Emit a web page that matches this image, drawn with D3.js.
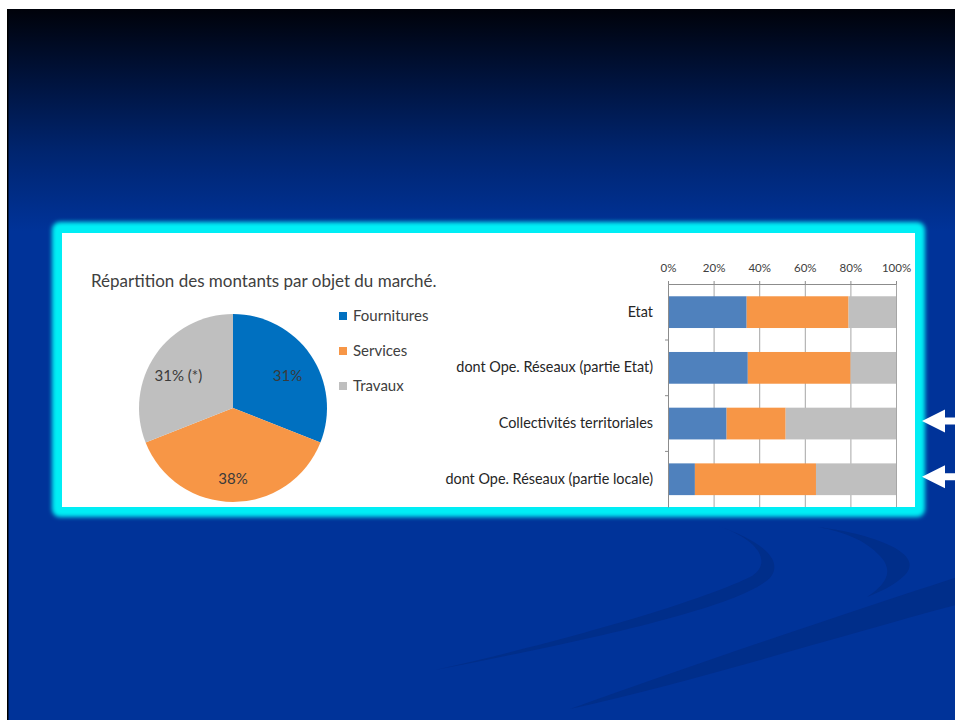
<!DOCTYPE html>
<html>
<head>
<meta charset="utf-8">
<script src="https://cdn.jsdelivr.net/npm/d3@7"></script>
<style>
  body { margin: 0; background: #fff; }
  svg { display: block; }
  text { font-family: Lato, "Open Sans", sans-serif; }
</style>
</head>
<body>
<svg></svg>
<script>
const WIDTH = 955, HEIGHT = 720

// pie data
const pieCategories = ['Fournitures', 'Services', 'Travaux']
const pieValues = [31, 38, 31]
const pieLabels = ['31%', '38%', '31% (*)']

// stacked bar data (% of each row)
const barCategories = [
  'Etat',
  'dont Ope. Réseaux (partie Etat)',
  'Collectivités territoriales',
  'dont Ope. Réseaux (partie locale)'
]
const fournitures = [34.5, 35.0, 25.7, 11.8]
const services = [44.7, 45.1, 25.9, 53.1]
const travaux = [20.8, 19.9, 48.4, 35.1]
const xTicks = [0, 20, 40, 60, 80, 100]
const flaggedRows = ['Collectivités territoriales', 'dont Ope. Réseaux (partie locale)']

const pieColors = ['#0070c0', '#f79646', '#bfbfbf']
const barColors = ['#4f81bd', '#f79646', '#bfbfbf']

const svg = d3.select('svg')
  .attr('width', WIDTH)
  .attr('height', HEIGHT)

const defs = svg.append('defs')
const grad = defs.append('linearGradient')
  .attr('id', 'sky')
  .attr('x1', 0).attr('y1', 0).attr('x2', 0).attr('y2', 1)
grad.selectAll('stop')
  .data([[0, '#00020a'], [0.3, '#00123a'], [0.65, '#002570'], [1, '#003399']])
  .enter().append('stop')
  .attr('offset', d => d[0])
  .attr('stop-color', d => d[1])
defs.append('filter').attr('id', 'glow')
  .attr('x', -0.05).attr('y', -0.1).attr('width', 1.1).attr('height', 1.2)
  .append('feGaussianBlur').attr('stdDeviation', 2.2)
defs.append('clipPath').attr('id', 'slide')
  .append('rect').attr('x', 7).attr('y', 9).attr('width', WIDTH - 7).attr('height', HEIGHT - 9)

// slide background
const bg = svg.append('g').attr('clip-path', 'url(#slide)')
bg.append('rect').attr('x', 7).attr('y', 9).attr('width', WIDTH).attr('height', HEIGHT).attr('fill', '#003399')
bg.append('rect').attr('x', 7).attr('y', 9).attr('width', WIDTH).attr('height', 222).attr('fill', 'url(#sky)')
bg.append('rect').attr('x', 7).attr('y', 9).attr('width', 1.5).attr('height', HEIGHT).attr('fill', '#000')

// decorative swooshes
const swooshes = [
  'M718,526 C760,540 785,560 770,578 C740,605 620,634 435,670 C560,642 700,602 752,576 C772,563 760,540 718,526 Z',
  'M818,527 C880,535 925,555 905,575 C895,585 880,592 867,597 C885,585 895,572 880,556 C865,540 845,532 818,527 Z',
  'M570,709 C700,662 850,612 960,576 L960,604 C850,633 700,680 570,709 Z'
]
bg.selectAll('path.swoosh')
  .data(swooshes)
  .enter().append('path')
  .attr('class', 'swoosh')
  .attr('d', d => d)
  .attr('fill', '#002e8a')

// glowing panel
svg.append('rect')
  .attr('x', 52).attr('y', 222).attr('width', 873).attr('height', 295)
  .attr('rx', 8)
  .attr('fill', '#00eef5')
  .attr('filter', 'url(#glow)')
svg.append('rect')
  .attr('x', 62).attr('y', 233).attr('width', 853).attr('height', 274)
  .attr('fill', '#ffffff')

// ---------- pie ----------
svg.append('text')
  .attr('x', 91)
  .attr('y', 287)
  .attr('font-size', 17)
  .attr('fill', '#404040')
  .text('Répartition des montants par objet du marché.')

const pieG = svg.append('g').attr('transform', 'translate(233,408)')
const pie = d3.pie().sort(null).value(d => d)
const arcs = pie(pieValues)
const arc = d3.arc().innerRadius(0).outerRadius(94)
const labelArc = d3.arc().innerRadius(66).outerRadius(66)

pieG.selectAll('path')
  .data(arcs)
  .enter().append('path')
  .attr('d', arc)
  .attr('fill', (d, i) => pieColors[i])

pieG.selectAll('text')
  .data(arcs)
  .enter().append('text')
  .attr('x', d => labelArc.centroid(d)[0])
  .attr('y', d => labelArc.centroid(d)[1] + 4)
  .attr('text-anchor', 'middle')
  .attr('dominant-baseline', 'central')
  .attr('font-size', 15)
  .attr('fill', '#3a3a3a')
  .text((d, i) => pieLabels[i])

const legend = svg.append('g').attr('transform', 'translate(339,316)')
const legendItem = legend.selectAll('g')
  .data(pieCategories)
  .enter().append('g')
  .attr('transform', (d, i) => `translate(0,${i * 35})`)
legendItem.append('rect')
  .attr('x', 0).attr('y', -4).attr('width', 8).attr('height', 8)
  .attr('fill', (d, i) => pieColors[i])
legendItem.append('text')
  .attr('x', 14)
  .attr('y', 5)
  .attr('font-size', 15)
  .attr('fill', '#404040')
  .text(d => d)

// ---------- stacked bars ----------
const rows = barCategories.map((c, i) => ({
  category: c,
  Fournitures: fournitures[i],
  Services: services[i],
  Travaux: travaux[i]
}))
const stack = d3.stack().keys(pieCategories)(rows)

const xScale = d3.scaleLinear().domain([0, 100]).range([668, 896])
const yScale = d3.scaleBand()
  .domain(barCategories)
  .range([284.3, 507.1])
  .paddingInner(0.43)
  .paddingOuter(0.215)

const barG = svg.append('g')

// gridlines
barG.append('g')
  .attr('transform', 'translate(0,284)')
  .call(d3.axisTop(xScale).tickValues(xTicks).tickSize(-(507 - 284)).tickFormat(''))
  .call(g => g.select('.domain').remove())
  .call(g => g.selectAll('line').attr('stroke', '#a6a6a6'))

barG.selectAll('g.series')
  .data(stack)
  .enter().append('g')
  .attr('class', 'series')
  .attr('fill', (d, i) => barColors[i])
  .selectAll('rect')
  .data(d => d)
  .enter().append('rect')
  .attr('x', d => xScale(d[0]))
  .attr('width', d => xScale(d[1]) - xScale(d[0]))
  .attr('y', d => yScale(d.data.category))
  .attr('height', yScale.bandwidth())

// top axis
const axisX = d3.axisTop(xScale)
  .tickValues(xTicks)
  .tickFormat(d => d + '%')
  .tickSizeInner(3)
  .tickSizeOuter(0)
  .tickPadding(9)
barG.append('g')
  .attr('transform', 'translate(0,284)')
  .call(axisX)
  .call(g => g.select('.domain').attr('stroke', '#8c8c8c'))
  .call(g => g.selectAll('line').attr('stroke', '#8c8c8c'))
  .call(g => g.selectAll('text')
    .attr('font-family', 'Lato, sans-serif')
    .attr('font-size', 11.5)
    .attr('fill', '#404040'))

// left axis with category labels
const axisY = d3.axisLeft(yScale).tickSize(0).tickPadding(15)
barG.append('g')
  .attr('transform', 'translate(668,0)')
  .call(axisY)
  .call(g => g.select('.domain').attr('stroke', '#8c8c8c'))
  .call(g => g.selectAll('text')
    .attr('font-family', 'Lato, sans-serif')
    .attr('font-size', 14.4)
    .attr('fill', '#262626'))

// tick marks between categories
const step = yScale.step()
barG.selectAll('line.sep')
  .data(barCategories.slice(1))
  .enter().append('line')
  .attr('class', 'sep')
  .attr('x1', 665).attr('x2', 668)
  .attr('y1', d => yScale(d) - step * yScale.paddingInner() / 2)
  .attr('y2', d => yScale(d) - step * yScale.paddingInner() / 2)
  .attr('stroke', '#8c8c8c')

// white arrows pointing at the local rows
svg.selectAll('path.arrow')
  .data(flaggedRows)
  .enter().append('path')
  .attr('class', 'arrow')
  .attr('transform', d => `translate(922,${yScale(d) + yScale.bandwidth() / 2 - 2.5})`)
  .attr('d', 'M0,0 L23,-11.5 L23,-3.5 L35,-3.5 L35,3.5 L23,3.5 L23,11.5 Z')
  .attr('fill', '#ffffff')
</script>
</body>
</html>
